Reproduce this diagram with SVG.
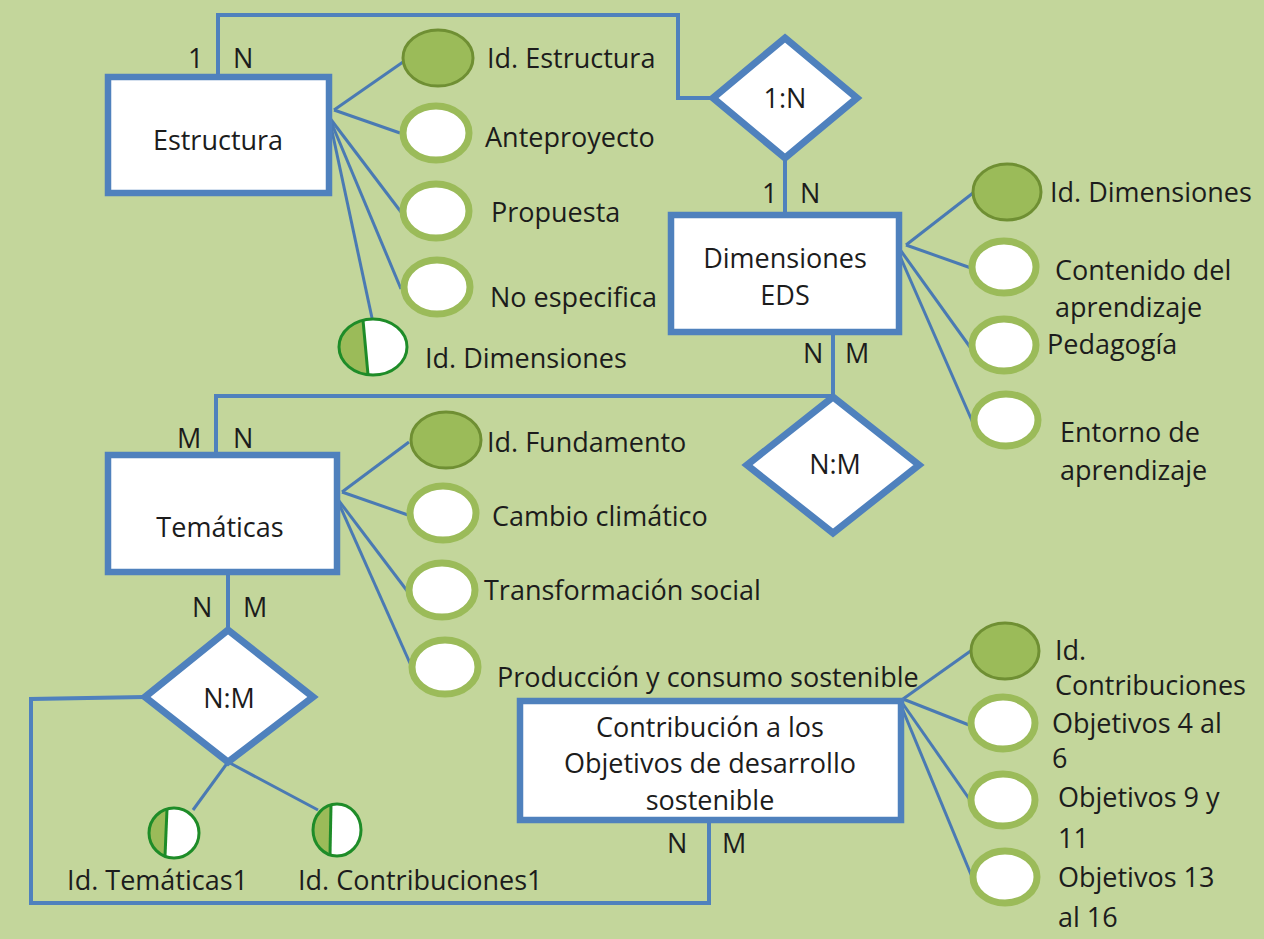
<svg xmlns="http://www.w3.org/2000/svg" width="1264" height="939" viewBox="0 0 1264 939">
<style>
text{font-family:"Open Sans","Noto Sans","Liberation Sans",sans-serif;font-size:27px;fill:#1c1c1c}
.c{text-anchor:middle}
.box{fill:#fff;stroke:#4f81bd;stroke-width:6.5}
.dia{fill:#fff;stroke:#4f81bd;stroke-width:7;stroke-linejoin:miter}
.rel{fill:none;stroke:#4f81bd;stroke-width:4}
.att{fill:none;stroke:#4a7ab3;stroke-width:3}
.key{fill:#9bbb59;stroke:#6f8f33;stroke-width:3}
.at{fill:#fff;stroke:#9bbb59;stroke-width:7}
.hw{fill:#fff;stroke:none}
.hl{fill:#9bbb59;stroke:none}
.ho{fill:none;stroke:#1e8c28;stroke-width:3}
</style>
<rect x="0" y="0" width="1264" height="939" fill="#c3d69b"/>
<g id="connectors">
<polyline class="rel" points="218,77 218,15 678,15 678,98 713,98"/>
<line class="rel" x1="785" y1="158" x2="785" y2="215"/>
<polyline class="rel" points="833,332 833,396 216,396 216,455"/>
<line class="rel" x1="228" y1="572" x2="228" y2="630"/>
<polyline class="rel" points="145,697 31,699 31,903 709,903 709,820"/>
<line class="att" x1="228" y1="762" x2="193" y2="810"/>
<line class="att" x1="228" y1="762" x2="318" y2="810"/>
<line class="att" x1="334" y1="110" x2="403" y2="62"/>
<line class="att" x1="334" y1="110" x2="400" y2="133"/>
<line class="att" x1="329" y1="117" x2="401" y2="212"/>
<line class="att" x1="329" y1="117" x2="401" y2="289"/>
<line class="att" x1="329" y1="117" x2="372" y2="318"/>
<line class="att" x1="906" y1="245" x2="973" y2="193"/>
<line class="att" x1="906" y1="245" x2="971" y2="268"/>
<line class="att" x1="901" y1="251" x2="970" y2="347"/>
<line class="att" x1="899" y1="254" x2="973" y2="423"/>
<line class="att" x1="342" y1="492" x2="409" y2="442"/>
<line class="att" x1="342" y1="492" x2="408" y2="515"/>
<line class="att" x1="336" y1="497" x2="408" y2="592"/>
<line class="att" x1="336" y1="497" x2="413" y2="670"/>
<line class="att" x1="903" y1="699" x2="972" y2="650"/>
<line class="att" x1="903" y1="699" x2="969" y2="725"/>
<line class="att" x1="903" y1="704" x2="970" y2="800"/>
<line class="att" x1="902" y1="708" x2="972" y2="877"/>
</g>
<g id="labels">
<text x="188" y="68">1</text><text x="233" y="68">N</text>
<text x="762" y="203">1</text><text x="800" y="203">N</text>
<text x="803" y="363">N</text><text x="845" y="363">M</text>
<text x="177" y="448">M</text><text x="233" y="448">N</text>
<text x="192" y="617">N</text><text x="243" y="617">M</text>
<text x="667" y="853">N</text><text x="722" y="853">M</text>
</g>
<g id="estructura">
<rect class="box" x="108" y="77" width="221" height="116"/>
<text class="c" x="218" y="150">Estructura</text>
</g>
<g id="dimensiones">
<rect class="box" x="671" y="215" width="228" height="117"/>
<text class="c" x="785" y="268">Dimensiones</text>
<text class="c" x="785" y="305">EDS</text>
</g>
<g id="tematicas">
<rect class="box" x="108" y="455" width="229" height="117"/>
<text class="c" x="220" y="537">Temáticas</text>
</g>
<g id="contribucion">
<rect class="box" x="520" y="701" width="381" height="119"/>
<text class="c" x="710" y="737">Contribución a los</text>
<text class="c" x="710" y="773">Objetivos de desarrollo</text>
<text class="c" x="710" y="810">sostenible</text>
</g>
<g id="rel-1N">
<polygon class="dia" points="785,38 857,98 785,158 713,98"/>
<text class="c" x="785" y="108">1:N</text>
</g>
<g id="rel-NM-1">
<polygon class="dia" points="833,397 919,465 833,533 747,465"/>
<text class="c" x="835" y="474">N:M</text>
</g>
<g id="rel-NM-2">
<polygon class="dia" points="228,630 313,697 228,762 145,697"/>
<text class="c" x="229" y="708">N:M</text>
</g>
<g id="attr-id-estructura"><ellipse class="key" cx="438" cy="58" rx="35" ry="28"/><text x="487" y="68">Id. Estructura</text></g>
<g id="attr-anteproyecto"><ellipse class="at" cx="436" cy="133" rx="33" ry="27"/><text x="485" y="147">Anteproyecto</text></g>
<g id="attr-propuesta"><ellipse class="at" cx="436" cy="211" rx="33" ry="27"/><text x="491" y="222">Propuesta</text></g>
<g id="attr-no-especifica"><ellipse class="at" cx="437" cy="287" rx="33" ry="27"/><text x="490" y="307">No especifica</text></g>
<g id="attr-fk-dimensiones">
<ellipse class="hw" cx="373" cy="347" rx="34" ry="28"/>
<path class="hl" d="M363,320.2 A34,28 0 0 0 368,374.7 Z"/>
<line class="ho" x1="363" y1="320.2" x2="368" y2="374.7"/>
<ellipse class="ho" cx="373" cy="347" rx="34" ry="28"/>
<text x="425" y="368">Id. Dimensiones</text>
</g>
<g id="attr-id-dimensiones"><ellipse class="key" cx="1007" cy="192" rx="34" ry="28"/><text x="1050" y="202">Id. Dimensiones</text></g>
<g id="attr-contenido"><ellipse class="at" cx="1004" cy="267" rx="32" ry="26"/><text x="1055" y="280">Contenido del</text><text x="1055" y="317">aprendizaje</text></g>
<g id="attr-pedagogia"><ellipse class="at" cx="1004" cy="345" rx="32" ry="26"/><text x="1047" y="354">Pedagogía</text></g>
<g id="attr-entorno"><ellipse class="at" cx="1006" cy="420" rx="32" ry="26"/><text x="1060" y="442">Entorno de</text><text x="1060" y="480">aprendizaje</text></g>
<g id="attr-id-fundamento"><ellipse class="key" cx="446" cy="440" rx="35" ry="28"/><text x="487" y="452">Id. Fundamento</text></g>
<g id="attr-cambio"><ellipse class="at" cx="443" cy="513" rx="33" ry="27"/><text x="492" y="526">Cambio climático</text></g>
<g id="attr-transformacion"><ellipse class="at" cx="442" cy="590" rx="33" ry="27"/><text x="484" y="600">Transformación social</text></g>
<g id="attr-produccion"><ellipse class="at" cx="445" cy="667" rx="33" ry="27"/><text x="497" y="687">Producción y consumo sostenible</text></g>
<g id="attr-id-contribuciones"><ellipse class="key" cx="1005" cy="651" rx="34" ry="28"/><text x="1055" y="660">Id.</text><text x="1055" y="695">Contribuciones</text></g>
<g id="attr-obj-4-6"><ellipse class="at" cx="1003" cy="723" rx="32" ry="26"/><text x="1052" y="733">Objetivos 4 al</text><text x="1052" y="768">6</text></g>
<g id="attr-obj-9-11"><ellipse class="at" cx="1003" cy="800" rx="32" ry="26"/><text x="1058" y="807">Objetivos 9 y</text><text x="1058" y="848">11</text></g>
<g id="attr-obj-13-16"><ellipse class="at" cx="1005" cy="877" rx="32" ry="26"/><text x="1058" y="887">Objetivos 13</text><text x="1058" y="927">al 16</text></g>
<g id="attr-fk-tematicas1">
<ellipse class="hw" cx="174" cy="833" rx="25" ry="25"/>
<path class="hl" d="M167,809 A25,25 0 0 0 165,856.3 Z"/>
<line class="ho" x1="167" y1="809" x2="165" y2="856.3"/>
<ellipse class="ho" cx="174" cy="833" rx="25" ry="25"/>
<text x="248" y="890" style="text-anchor:end">Id. Temáticas1</text>
</g>
<g id="attr-fk-contribuciones1">
<ellipse class="hw" cx="337" cy="830" rx="24" ry="26"/>
<path class="hl" d="M331,804.8 A24,26 0 0 0 330,854.9 Z"/>
<line class="ho" x1="331" y1="804.8" x2="330" y2="854.9"/>
<ellipse class="ho" cx="337" cy="830" rx="24" ry="26"/>
<text x="298" y="890">Id. Contribuciones1</text>
</g>
</svg>
